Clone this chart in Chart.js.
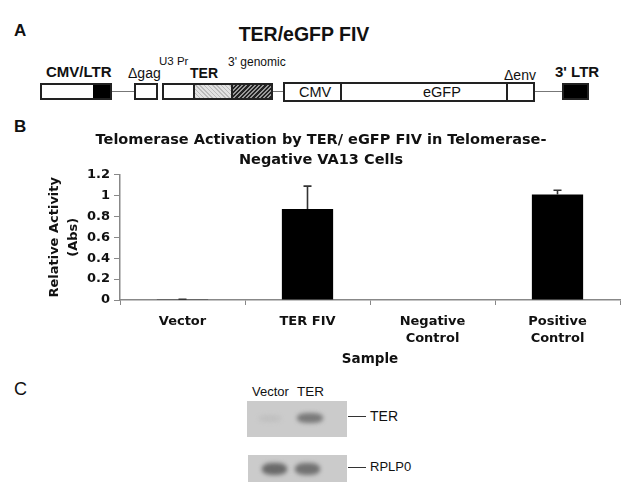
<!DOCTYPE html>
<html lang="en">
<head>
  <meta charset="UTF-8" />
  <title>TER/eGFP FIV</title>
  <script src="https://cdn.jsdelivr.net/npm/chart.js"></script>
  <style>
    body {
      margin: 0;
      background: #fff;
      font-family: "Liberation Sans", Arial, sans-serif;
      color: #111;
    }
    #page {
      position: relative;
      width: 634px;
      height: 503px;
      overflow: hidden;
    }
    .t {
      position: absolute;
      white-space: nowrap;
      line-height: 1.2;
    }
    .box {
      position: absolute;
      box-sizing: border-box;
      border: 2px solid #222;
      background: #fff;
    }
    .seg {
      position: absolute;
      top: 0;
      bottom: 0;
      box-sizing: border-box;
    }
    .wire {
      position: absolute;
      height: 1px;
      background: #777;
    }
    .gel {
      position: absolute;
      background: #cbcbcb;
    }
    .band {
      position: absolute;
      border-radius: 40%;
      filter: blur(2px);
    }
    #chartBox {
      position: absolute;
      left: 22px;
      top: 128px;
    }
  </style>
</head>
<body>
<div id="page">
  <!-- panel A: construct map -->
  <div class="t" style="left:14px;top:21px;font-size:17px;font-weight:bold;">A</div>
  <div class="t" style="left:204px;top:23px;width:200px;text-align:center;font-size:19.5px;font-weight:bold;">TER/eGFP FIV</div>

  <div class="t" style="left:46px;top:63px;font-size:15px;font-weight:bold;">CMV/LTR</div>
  <div class="t" style="left:128px;top:65px;font-size:14px;">&Delta;gag</div>
  <div class="t" style="left:159px;top:55px;font-size:11.5px;">U3 Pr</div>
  <div class="t" style="left:190px;top:65px;font-size:14px;font-weight:bold;">TER</div>
  <div class="t" style="left:228px;top:55px;font-size:12px;">3' genomic</div>
  <div class="t" style="left:504px;top:67px;font-size:14px;">&Delta;env</div>
  <div class="t" style="left:555px;top:63px;font-size:15px;font-weight:bold;">3' LTR</div>

  <div class="wire" style="left:112px;top:91px;width:22px;"></div>
  <div class="wire" style="left:273px;top:91px;width:10px;"></div>
  <div class="wire" style="left:535px;top:91px;width:27px;"></div>

  <div class="box" style="left:40px;top:83px;width:72px;height:17px;">
    <div class="seg" style="left:51px;right:0;background:#000;"></div>
  </div>
  <div class="box" style="left:134px;top:83px;width:24px;height:17px;"></div>
  <div class="box" style="left:162px;top:83px;width:111px;height:17px;">
    <div class="seg" style="left:29px;width:40px;border-left:2px solid #222;border-right:2px solid #222;
      background:#e2e2e2 repeating-linear-gradient(45deg,#bbb 0 1px,transparent 1px 3px);"></div>
    <div class="seg" style="left:69px;right:0;
      background:#777 repeating-linear-gradient(-45deg,#222 0 1.5px,#999 1.5px 3px);"></div>
  </div>
  <div class="box" style="left:283px;top:82px;width:252px;height:20px;">
    <div class="seg" style="left:55px;width:168px;border-left:2px solid #222;border-right:2px solid #222;"></div>
    <div class="t" style="left:14px;top:0;font-size:14.5px;">CMV</div>
    <div class="t" style="left:138px;top:0;font-size:14.5px;">eGFP</div>
  </div>
  <div class="box" style="left:562px;top:83px;width:27px;height:17px;background:#000;"></div>

  <!-- panel B label -->
  <div class="t" style="left:14px;top:117px;font-size:17px;font-weight:bold;">B</div>

  <div id="chartBox"><canvas id="chart" width="610" height="250"></canvas></div>

  <!-- panel C: blot -->
  <div class="t" style="left:14px;top:379px;font-size:18px;">C</div>
  <div class="t" style="left:252px;top:384px;font-size:13px;">Vector</div>
  <div class="t" style="left:297px;top:384px;font-size:13.5px;">TER</div>

  <div class="gel" style="left:247px;top:401px;width:100px;height:36px;">
    <div class="band" style="left:50px;top:12px;width:26px;height:10px;background:#7a7a7a;"></div>
    <div class="band" style="left:12px;top:14px;width:22px;height:7px;background:#c0c0c0;"></div>
  </div>
  <div class="gel" style="left:248px;top:455px;width:99px;height:27px;">
    <div class="band" style="left:14px;top:8px;width:25px;height:12px;background:#6a6a6a;"></div>
    <div class="band" style="left:47px;top:8px;width:25px;height:12px;background:#727272;"></div>
  </div>
  <div class="wire" style="left:348px;top:416px;width:18px;background:#333;"></div>
  <div class="wire" style="left:348px;top:467px;width:18px;background:#333;"></div>
  <div class="t" style="left:370px;top:408px;font-size:14px;">TER</div>
  <div class="t" style="left:370px;top:459px;font-size:13px;">RPLP0</div>
</div>

<script>
  const categories = ['Vector', 'TER FIV', ['Negative', 'Control'], ['Positive', 'Control']];
  const activity = [0.002, 0.87, 0, 1.01];
  const errorUp = [0.005, 0.22, 0, 0.04];
  const yTickLabels = ['0', '0.2', '0.4', '0.6', '0.8', '1', '1.2'];

  const font = 'DejaVu Sans';

  // upper-only error bars, drawn through the y scale
  const errorBars = {
    id: 'errorBars',
    afterDatasetsDraw(chart) {
      const ctx = chart.ctx;
      const y = chart.scales.y;
      const bars = chart.getDatasetMeta(0).data;
      ctx.save();
      ctx.strokeStyle = '#333';
      ctx.lineWidth = 1.6;
      bars.forEach((bar, i) => {
        if (!errorUp[i]) return;
        const y0 = y.getPixelForValue(activity[i]);
        const y1 = y.getPixelForValue(activity[i] + errorUp[i]);
        ctx.beginPath();
        ctx.moveTo(bar.x, y0);
        ctx.lineTo(bar.x, y1);
        ctx.moveTo(bar.x - 4, y1);
        ctx.lineTo(bar.x + 4, y1);
        ctx.stroke();
      });
      ctx.restore();
    }
  };

  new Chart(document.getElementById('chart'), {
    type: 'bar',
    data: {
      labels: categories,
      datasets: [{
        data: activity,
        backgroundColor: '#000',
        barPercentage: 0.41,
        categoryPercentage: 1
      }]
    },
    options: {
      responsive: false,
      animation: false,
      layout: { padding: { left: 0, right: 12, top: 0, bottom: 0 } },
      plugins: {
        legend: { display: false },
        tooltip: { enabled: false },
        title: {
          display: true,
          text: ['Telomerase Activation by TER/ eGFP FIV in Telomerase-', 'Negative VA13 Cells'],
          color: '#111',
          font: { family: font, size: 14.5, weight: 'bold', lineHeight: 1.4 },
          padding: { top: 2, bottom: 4 }
        }
      },
      scales: {
        x: {
          afterFit: (s) => { s.height = 78; },
          border: { color: '#888', width: 1.5 },
          grid: { drawOnChartArea: false, tickLength: 5, color: '#888', offset: true },
          ticks: {
            color: '#111',
            padding: 8,
            font: { family: font, size: 13, weight: 'bold', lineHeight: 1.3 }
          },
          title: {
            display: true,
            text: 'Sample',
            color: '#111',
            font: { family: font, size: 13.5, weight: 'bold', lineHeight: 1.2 },
            padding: { top: 0, bottom: 10 }
          }
        },
        y: {
          min: 0,
          max: 1.2,
          afterFit: (s) => { s.width = 98; },
          border: { color: '#888', width: 1.5 },
          grid: { drawOnChartArea: false, tickLength: 6, color: '#888' },
          ticks: {
            stepSize: 0.2,
            color: '#111',
            padding: 4,
            font: { family: font, size: 13, weight: 'bold' },
            callback: (v, i) => yTickLabels[i]
          },
          title: {
            display: true,
            text: ['Relative Activity', '(Abs)'],
            color: '#111',
            font: { family: font, size: 13, weight: 'bold', lineHeight: 1.4 },
            padding: { top: 24, bottom: 0 }
          }
        }
      }
    },
    plugins: [errorBars]
  });
</script>
</body>
</html>
